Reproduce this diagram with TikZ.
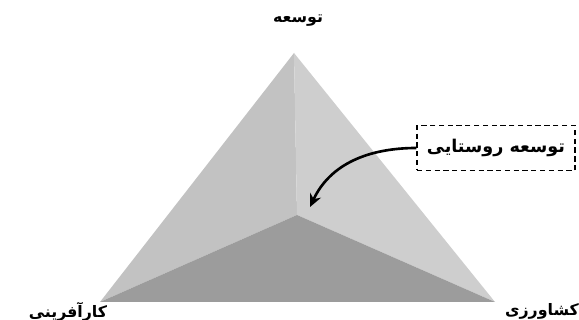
\documentclass[tikz,border=0pt]{standalone}
\usepackage{fontspec}
\usepackage{tikz}
\usetikzlibrary{arrows.meta, positioning, calc}
\TeXXeTstate=1
\newfontfamily\arabicfont[Script=Arabic]{DejaVu Sans}
\definecolor{cLeft}{RGB}{194,194,194}
\definecolor{cRight}{RGB}{206,206,206}
\definecolor{cBase}{RGB}{156,156,156}
\tikzset{
	face/.style     ={draw=none},
	vertexlbl/.style={font=\arabicfont\bfseries\small, inner sep=1pt},
	notebox/.style  ={rectangle, draw=black, densely dashed, semithick, minimum width=31.6mm, minimum height=9mm, font=\arabicfont\bfseries},
	pointer/.style  ={-{Stealth[length=2.6mm, width=2.4mm]}, line width=1.5pt},
}

\begin{document}
\begin{tikzpicture}[x=0.2mm, y=-0.2mm]
	\useasboundingbox (0,0) rectangle (579,320);
	% corners of the pyramid
	\coordinate (apex) at (294,53);
	\coordinate (lc) at (100,302);
	\coordinate (rc) at (495,302);
	\coordinate (mid) at (297,215);
	% faces
	\fill[face, cLeft]  (lc) -- (apex) -- (mid) -- cycle;
	\fill[face, cRight] (apex) -- (rc) -- (mid) -- cycle;
	\fill[face, cBase]  (lc) -- (mid) -- (rc) -- cycle;
	% labels
	\node[vertexlbl] (top) at (298,21) {\beginR توسعه\endR};
	\node[vertexlbl] (left) at (68,312) {\beginR کارآفرینی\endR};
	\node[vertexlbl] (right) at (542,311) {\beginR کشاورزی\endR};
	\node[notebox] (rural) at (496,148) {\beginR توسعه روستایی\endR};
	\coordinate (tip) at (310,207);
	\draw[pointer] (rural.west) to[out=180, in=65] (tip);
\end{tikzpicture}
\end{document}
